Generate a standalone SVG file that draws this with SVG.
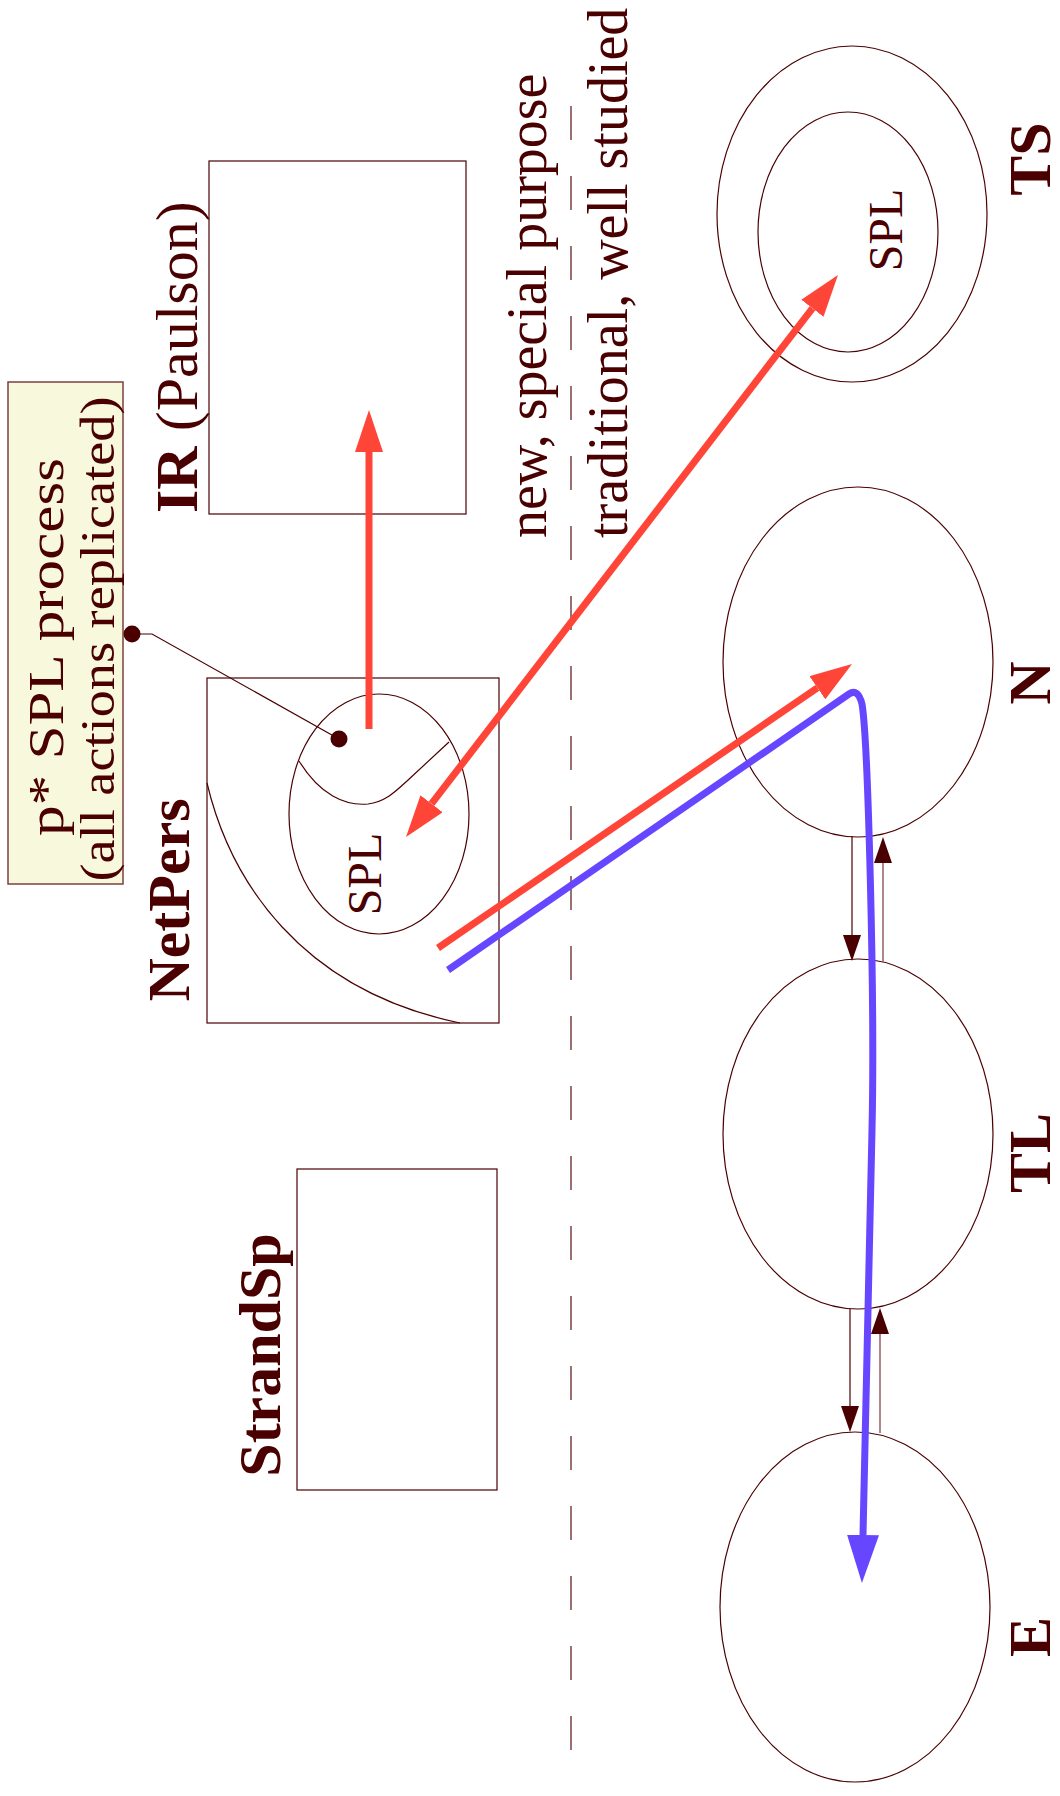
<svg xmlns="http://www.w3.org/2000/svg" width="1060" height="1796" viewBox="0 0 1060 1796">
<style>
.ln{fill:none;stroke:#4a0000;stroke-width:1.2}
.t{font-family:"Liberation Serif","Times New Roman",serif;fill:#4a0000}
.b{font-weight:bold;font-size:60px}
.r{font-size:56px}
.red{stroke:#ff4538;stroke-width:7;fill:none}
.blue{stroke:#6647ff;stroke-width:7;fill:none;stroke-linejoin:round}
.sm{stroke:#4a0000;stroke-width:1.2;fill:none}
.sm2{stroke:#9a6a6a;stroke-width:1.6;fill:none}
</style>
<defs>
<marker id="hr" markerUnits="userSpaceOnUse" viewBox="0 0 42 28" refX="0" refY="14" markerWidth="42" markerHeight="28" orient="auto-start-reverse"><path d="M0,0 L42,14 L0,28 Z" fill="#ff4538"/></marker>
<marker id="hb" markerUnits="userSpaceOnUse" viewBox="0 0 48 32" refX="0" refY="16" markerWidth="48" markerHeight="32" orient="auto"><path d="M0,0 L48,16 L0,32 Z" fill="#6647ff"/></marker>
<marker id="hs" markerUnits="userSpaceOnUse" viewBox="0 0 26 18" refX="0" refY="9" markerWidth="26" markerHeight="18" orient="auto"><path d="M0,0 L26,9 L0,18 Z" fill="#4a0000"/></marker>
</defs>
<rect width="1060" height="1796" fill="#ffffff"/>

<g id="divider">
<line x1="571" y1="106" x2="571" y2="1760" stroke="#9b7070" stroke-width="2" stroke-dasharray="34 36"/>
<text class="t r" transform="translate(546,538) rotate(-90)">new, special purpose</text>
<text class="t r" transform="translate(627,538) rotate(-90)">traditional, well studied</text>
</g>

<g id="note">
<rect x="8" y="382" width="115" height="502" fill="#f8f8dc" stroke="#7a4040" stroke-width="1.5"/>
<text class="t" font-size="50" textLength="378" lengthAdjust="spacingAndGlyphs" transform="translate(63,836) rotate(-90)">p* SPL process</text>
<text class="t" font-size="48" text-anchor="middle" textLength="485" lengthAdjust="spacingAndGlyphs" transform="translate(114,639) rotate(-90)">(all actions replicated)</text>
</g>

<g id="IR">
<rect class="ln" x="209" y="161" width="257" height="353"/>
<text class="t" font-size="60" transform="translate(197,513) rotate(-90)"><tspan font-weight="bold">IR</tspan> (Paulson)</text>
</g>

<g id="NetPers">
<rect class="ln" x="207" y="678" width="292" height="345"/>
<path class="ln" d="M207,783 C230,880 300,990 460,1023"/>
<ellipse class="ln" cx="379" cy="814" rx="90" ry="120"/>
<path class="ln" d="M299,761 C320,795 345,806 368,804 C385,802 395,792 407,781 L449,742"/>
<text class="t" font-size="48" text-anchor="middle" transform="translate(381,874) rotate(-90)">SPL</text>
<text class="t b" text-anchor="middle" transform="translate(189,900) rotate(-90)">NetPers</text>
</g>

<g id="StrandSp">
<rect class="ln" x="297" y="1169" width="200" height="321"/>
<text class="t b" text-anchor="middle" transform="translate(280,1355) rotate(-90)">StrandSp</text>
</g>

<g id="TS">
<ellipse class="ln" cx="852" cy="214" rx="135" ry="168"/>
<ellipse class="ln" cx="848" cy="232" rx="90" ry="120"/>
<text class="t" font-size="48" text-anchor="middle" transform="translate(902,230) rotate(-90)">SPL</text>
<text class="t b" text-anchor="middle" transform="translate(1050,159) rotate(-90)">TS</text>
</g>

<g id="N">
<ellipse class="ln" cx="858" cy="662" rx="135" ry="175"/>
<text class="t b" text-anchor="middle" transform="translate(1050,683) rotate(-90)">N</text>
</g>

<g id="TL">
<ellipse class="ln" cx="858" cy="1134" rx="135" ry="175"/>
<text class="t b" text-anchor="middle" transform="translate(1050,1153) rotate(-90)">TL</text>
</g>

<g id="E">
<ellipse class="ln" cx="855" cy="1607" rx="135" ry="175"/>
<text class="t b" text-anchor="middle" transform="translate(1050,1637) rotate(-90)">E</text>
</g>

<g id="connectors">
<path d="M132,634 L152,634 L339,739" fill="none" stroke="#4a0000" stroke-width="1.2"/>
<circle cx="132" cy="634" r="8.5" fill="#4a0000"/>
<circle cx="339" cy="739" r="8.5" fill="#4a0000"/>
<line class="red" x1="369" y1="729" x2="369" y2="452" marker-end="url(#hr)"/>
<line class="red" x1="431.6" y1="803.7" x2="812.4" y2="308.3" marker-start="url(#hr)" marker-end="url(#hr)"/>
<line class="red" x1="438" y1="948" x2="817.4" y2="687.8" marker-end="url(#hr)"/>
<path class="blue" d="M448,970 L849,694 Q858,688 862,704 C868,740 875,1000 872,1130 L863,1535" marker-end="url(#hb)"/>
<line class="sm" x1="852" y1="836" x2="852" y2="935" marker-end="url(#hs)"/>
<line class="sm2" x1="883" y1="962" x2="883" y2="863" marker-end="url(#hs)"/>
<line class="sm" x1="850" y1="1309" x2="850" y2="1406" marker-end="url(#hs)"/>
<line class="sm2" x1="880" y1="1433" x2="880" y2="1334" marker-end="url(#hs)"/>
</g>
</svg>
